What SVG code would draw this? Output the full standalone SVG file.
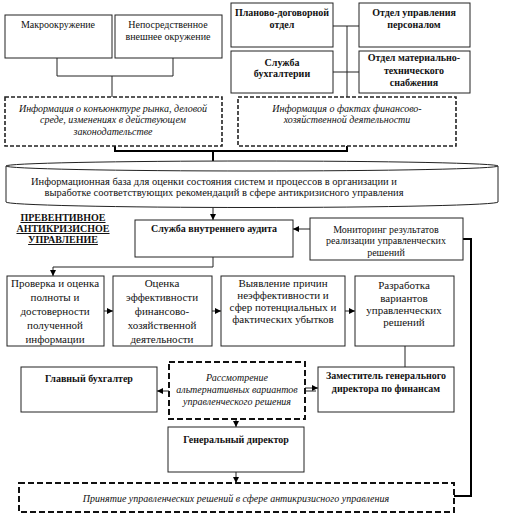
<svg xmlns="http://www.w3.org/2000/svg" width="511" height="527" viewBox="0 0 511 527">
<style>
text{font-family:"Liberation Serif","Times New Roman",serif;font-size:10px;fill:#111;text-anchor:middle}
.b{font-weight:bold}
.i{font-style:italic}
.l{font-size:11px}
.m{font-size:10.5px}
.box{fill:#fff;stroke:#222;stroke-width:1}
.dash{fill:#fff;stroke:#222;stroke-width:1.6;stroke-dasharray:4 2}
.dash2{fill:#fff;stroke:#111;stroke-width:2;stroke-dasharray:6 3}
.c{fill:none;stroke:#222;stroke-width:1}
.t{fill:none;stroke:#000;stroke-width:2}
.u{text-decoration:underline}
</style>
<defs>
<marker id="a" markerWidth="6" markerHeight="6" refX="6" refY="3" orient="auto" markerUnits="userSpaceOnUse"><path d="M0,0 L6,3 L0,6 z" fill="#000"/></marker>
</defs>
<rect width="511" height="527" fill="#fff"/>
<g id="connectors">
<path class="c" d="M57,58 V76 H173 V58 M112,76 V97"/>
<path class="c" d="M347,26 V97 M333,26 H359 M333,72 H359"/>
<path class="t" d="M115,146 V151 H347 V146"/>
<path class="t" d="M213,151 V168" marker-end="url(#a)"/>
<path class="c" d="M213,207 V220" marker-end="url(#a)" stroke-width="1.3"/>
<path class="c" d="M310,229 H293" marker-end="url(#a)" stroke-width="1.3"/>
<path class="c" d="M213,257 V267 H53 V276" marker-end="url(#a)" stroke-width="1.5"/>
<path class="c" d="M104,311 H113" marker-end="url(#a)"/>
<path class="c" d="M212,311 H221" marker-end="url(#a)"/>
<path class="c" d="M345,311 H355" marker-end="url(#a)"/>
<path class="c" d="M405,346 V367"/>
<path class="c" d="M169,391 H157" marker-end="url(#a)"/>
<path class="c" d="M305,388 H318" marker-end="url(#a)"/>
<path class="c" d="M305,391 H316"/>
<path class="c" d="M236,419 V427" marker-end="url(#a)"/>
<path class="c" d="M236,472 V483" marker-end="url(#a)"/>
<path class="t" d="M463,239 H471 V496 H454"/>
</g>
<g id="makro"><rect class="box" x="5" y="15" width="107" height="43"/><text x="58" y="28">Макроокружение</text></g>
<g id="neposr"><rect class="box" x="115" y="15" width="107" height="43"/><text x="168" y="28">Непосредственное</text><text x="168" y="40">внешнее окружение</text></g>
<g id="info1"><rect class="dash" x="5" y="97" width="217" height="49"/><text class="i" x="113" y="112">Информация о конъюнктуре рынка, деловой</text><text class="i" x="113" y="123">среде, изменениях в действующем</text><text class="i" x="113" y="135">законодательстве</text></g>
<g id="plan"><rect class="box" x="231" y="3" width="102" height="44"/><text class="b" x="282" y="16">Планово-договорной</text><text class="b" x="282" y="28">отдел</text></g>
<g id="personal"><rect class="box" x="359" y="3" width="111" height="44"/><text class="b" x="414" y="16">Отдел управления</text><text class="b" x="414" y="28">персоналом</text></g>
<g id="buh"><rect class="box" x="231" y="51" width="102" height="42"/><text class="b" x="282" y="66">Служба</text><text class="b" x="282" y="77">бухгалтерии</text></g>
<g id="mts"><rect class="box" x="359" y="51" width="111" height="42"/><text class="b" x="414" y="61">Отдел материально-</text><text class="b" x="414" y="74">технического</text><text class="b" x="414" y="86">снабжения</text></g>
<g id="info2"><rect class="dash" x="238" y="97" width="218" height="49"/><text class="i" x="347" y="112">Информация о фактах финансово-</text><text class="i" x="347" y="123">хозяйственной деятельности</text></g>
<g id="base">
<path d="M6,166 V202 A246,5.5 0 0 0 498,202 V166" fill="#fff" stroke="#222" stroke-width="1"/>
<ellipse cx="252" cy="166" rx="246" ry="5" fill="#fff" stroke="#222" stroke-width="1"/>
<text class="m" x="214" y="185">Информационная база для оценки состояния систем и процессов в организации и</text>
<text class="m" x="224" y="196">выработке соответствующих рекомендаций в сфере антикризисного управления</text>
</g>
<g id="label"><text class="b u" x="63" y="221">ПРЕВЕНТИВНОЕ</text><text class="b u" x="63" y="232">АНТИКРИЗИСНОЕ</text><text class="b u" x="63" y="243">УПРАВЛЕНИЕ</text></g>
<g id="audit"><rect class="box" x="135" y="220" width="158" height="37"/><text class="b" x="214" y="232">Служба внутреннего аудита</text></g>
<g id="monitor"><rect class="box" x="310" y="218" width="153" height="42"/><text x="386" y="233">Мониторинг результатов</text><text x="386" y="244">реализации управленческих</text><text x="386" y="256">решений</text></g>
<g id="check"><rect class="box" x="7" y="276" width="97" height="70"/><text class="l" x="55" y="287">Проверка и оценка</text><text class="l" x="55" y="301">полноты и</text><text class="l" x="55" y="315">достоверности</text><text class="l" x="55" y="329">полученной</text><text class="l" x="55" y="343">информации</text></g>
<g id="eff"><rect class="box" x="113" y="276" width="99" height="70"/><text class="l" x="162" y="287">Оценка</text><text class="l" x="162" y="301">эффективности</text><text class="l" x="162" y="315">финансово-</text><text class="l" x="162" y="329">хозяйственной</text><text class="l" x="162" y="343">деятельности</text></g>
<g id="causes"><rect class="box" x="221" y="276" width="124" height="70"/><text class="l" x="283" y="287">Выявление причин</text><text class="l" x="283" y="299">неэффективности и</text><text class="l" x="283" y="311">сфер потенциальных и</text><text class="l" x="283" y="323">фактических убытков</text></g>
<g id="develop"><rect class="box" x="355" y="276" width="99" height="70"/><text class="l" x="404" y="289">Разработка</text><text class="l" x="404" y="302">вариантов</text><text class="l" x="404" y="314">управленческих</text><text class="l" x="404" y="326">решений</text></g>
<g id="chief"><rect class="box" x="21" y="367" width="136" height="45"/><text class="b" x="89" y="382">Главный бухгалтер</text></g>
<g id="review"><rect class="dash2" x="169" y="362" width="136" height="57"/><text class="i" x="237" y="381">Рассмотрение</text><text class="i" x="237" y="393">альтернативных вариантов</text><text class="i" x="237" y="405">управленческого решения</text></g>
<g id="deputy"><rect class="box" x="318" y="367" width="136" height="45"/><text class="b" x="386" y="379">Заместитель генерального</text><text class="b" x="386" y="392">директора по финансам</text></g>
<g id="ceo"><rect class="box" x="168" y="427" width="136" height="45"/><text class="b" x="236" y="443">Генеральный директор</text></g>
<g id="decision"><rect class="dash2" x="19" y="483" width="435" height="29"/><text class="i" x="236" y="502">Принятие управленческих решений в сфере антикризисного управления</text></g>
</svg>
